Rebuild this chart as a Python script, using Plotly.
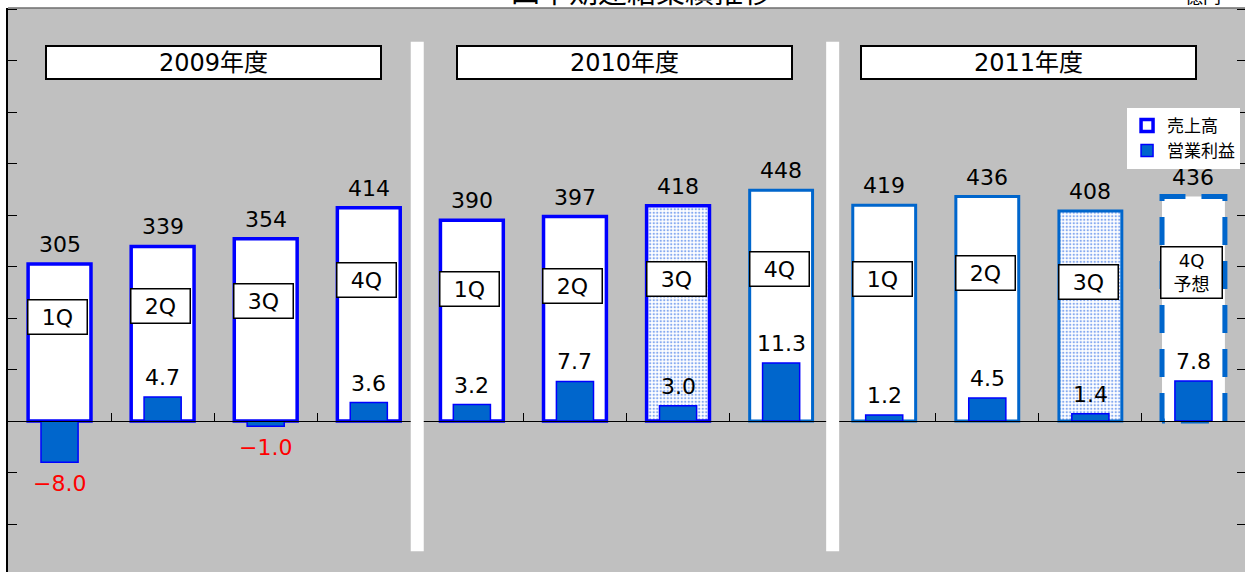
import plotly.graph_objects as go

# ---------------- data ----------------
years = ["2009年度", "2010年度", "2011年度"]
quarter_labels = ["1Q", "2Q", "3Q", "4Q",
                  "1Q", "2Q", "3Q", "4Q",
                  "1Q", "2Q", "3Q", "4Q<br>予想"]
sales = [305, 339, 354, 414, 390, 397, 418, 448, 419, 436, 408, 436]          # 売上高 (億円)
op_income = [-8.0, 4.7, -1.0, 3.6, 3.2, 7.7, 3.0, 11.3, 1.2, 4.5, 1.4, 7.8]   # 営業利益 (億円)
dotted = [False, False, False, False, False, False, True, False, False, False, True, False]
forecast = [False] * 11 + [True]

# ---------------- styles ----------------
FONT = "DejaVu Sans, Noto Sans CJK JP, sans-serif"
BG = "#C0C0C0"
BLUE = "#0000FF"
MID = "#0066CC"
sales_line_color = [BLUE] * 7 + [MID] * 5
sales_line_width = [3.5 if i < 7 else 3 for i in range(12)]
sales_line_width = [0 if f else w for w, f in zip(sales_line_width, forecast)]
SALES_W = 0.61
INC_W = 0.36

x = list(range(len(sales)))
y_rng = [-293, 802]
y2_rng = [v / 10 for v in y_rng]

fig = go.Figure()

fig.add_trace(go.Bar(
    x=x, y=sales, width=SALES_W, name="売上高", yaxis="y",
    marker=dict(color="white",
                line=dict(color=sales_line_color, width=sales_line_width),
                pattern=dict(shape=["." if d else "" for d in dotted],
                             fgcolor="#86AAF0", bgcolor="white",
                             size=3.5, solidity=0.35, fillmode="replace")),
    hoverinfo="skip",
))

# dashed outline for forecast bar, derived from data
for i, (v, f) in enumerate(zip(sales, forecast)):
    if f:
        h = SALES_W / 2
        fig.add_trace(go.Scatter(
            x=[i - h, i - h, i + h, i + h, i - h], y=[0, v, v, 0, 0],
            mode="lines", yaxis="y", showlegend=False, hoverinfo="skip",
            line=dict(color=MID, width=5, dash="28px,16px"),
        ))

fig.add_trace(go.Bar(
    x=x, y=op_income, width=INC_W, name="営業利益", yaxis="y2",
    marker=dict(color=MID, line=dict(color=BLUE, width=1.5)),
    hoverinfo="skip",
))

annotations = []
# sales value labels
for i, v in enumerate(sales):
    annotations.append(dict(x=i, y=v, xref="x", yref="y", text=str(v), showarrow=False,
                            yanchor="bottom", yshift=5, font=dict(size=22, color="black")))
# operating income labels
for i, v in enumerate(op_income):
    txt = f"{v:.1f}" if v >= 0 else "−" + f"{abs(v):.1f}"
    annotations.append(dict(x=i, y=v, xref="x", yref="y2", text=txt, showarrow=False,
                            yanchor="bottom" if v >= 0 else "top",
                            yshift=5 if v >= 0 else -7,
                            font=dict(size=22, color="black" if v >= 0 else "#FF0000")))
# quarter label boxes
for i, (q, v) in enumerate(zip(quarter_labels, sales)):
    fc = forecast[i]
    annotations.append(dict(x=i, y=v * 0.66, xref="x", yref="y", text=q, showarrow=False,
                            xshift=-2, yanchor="middle",
                            bgcolor="white", bordercolor="black", borderwidth=1.5,
                            width=58 if fc else 56, height=48 if fc else 31,
                            font=dict(size=18 if fc else 22, color="black")))
# year boxes
year_shift = [-1, -2, -10]
for g, yl in enumerate(years):
    annotations.append(dict(x=4 * g + 1.5, y=0.903, xref="x", yref="paper", text=yl,
                            showarrow=False, xshift=year_shift[g], yanchor="middle",
                            bgcolor="white", bordercolor="black", borderwidth=2,
                            width=331, height=29, font=dict(size=24, color="black")))
# cut-off title and unit
annotations.append(dict(x=0.512, y=1, xref="paper", yref="paper", text="四半期連結業績推移",
                        showarrow=False, xanchor="center", yanchor="middle", yshift=15,
                        font=dict(size=29, color="black")))
annotations.append(dict(x=0.982, y=1, xref="paper", yref="paper", text="億円",
                        showarrow=False, xanchor="right", yanchor="middle", yshift=12,
                        font=dict(size=18, color="black")))

shapes = []
# white separators between fiscal years
for g in range(1, len(years)):
    b = 4 * g - 0.5 - (0.03 if g == 1 else 0)
    shapes.append(dict(type="rect", xref="x", yref="paper", x0=b - 0.063, x1=b + 0.063,
                       y0=0.037, y1=0.94, fillcolor="white", line=dict(width=0), layer="above"))
# top border of plot area
shapes.append(dict(type="line", xref="paper", yref="paper", x0=0, x1=1, y0=1, y1=1,
                   line=dict(color="#6E6E6E", width=1.5)))

zero_pos = (0 - y_rng[0]) / (y_rng[1] - y_rng[0])

fig.update_layout(
    width=1245, height=572,
    margin=dict(l=8, r=0, t=8, b=0),
    paper_bgcolor="white", plot_bgcolor=BG,
    font=dict(family=FONT, color="black"),
    barmode="overlay",
    showlegend=True,
    legend=dict(x=0.996, xanchor="right", y=0.823, yanchor="top",
                bgcolor="white", borderwidth=0, font=dict(size=17),
                itemwidth=30, tracegroupgap=2),
    xaxis=dict(range=[-0.5, len(sales) - 0.5], showgrid=False, zeroline=False,
               tickmode="array", tickvals=[i + 0.5 for i in range(len(sales) - 1)],
               ticks="inside", ticklen=8, tickcolor="black", showticklabels=False,
               showline=True, linecolor="black", linewidth=1,
               anchor="free", position=zero_pos, fixedrange=True),
    yaxis=dict(range=y_rng, tick0=0, dtick=100, ticks="inside", ticklen=9,
               tickcolor="black", showticklabels=False, showgrid=False, zeroline=False,
               showline=True, linecolor="black", linewidth=1.5),
    yaxis2=dict(range=y2_rng, tick0=0, dtick=10, overlaying="y", side="right",
                ticks="inside", ticklen=8, tickcolor="black", showticklabels=False,
                showgrid=False, zeroline=False, showline=True, linecolor="black"),
    annotations=annotations,
    shapes=shapes,
)

fig.write_html(
    "out.html",
    config={"displayModeBar": False},
    post_script="document.body.style.margin='0';document.body.style.overflow='hidden';",
)
